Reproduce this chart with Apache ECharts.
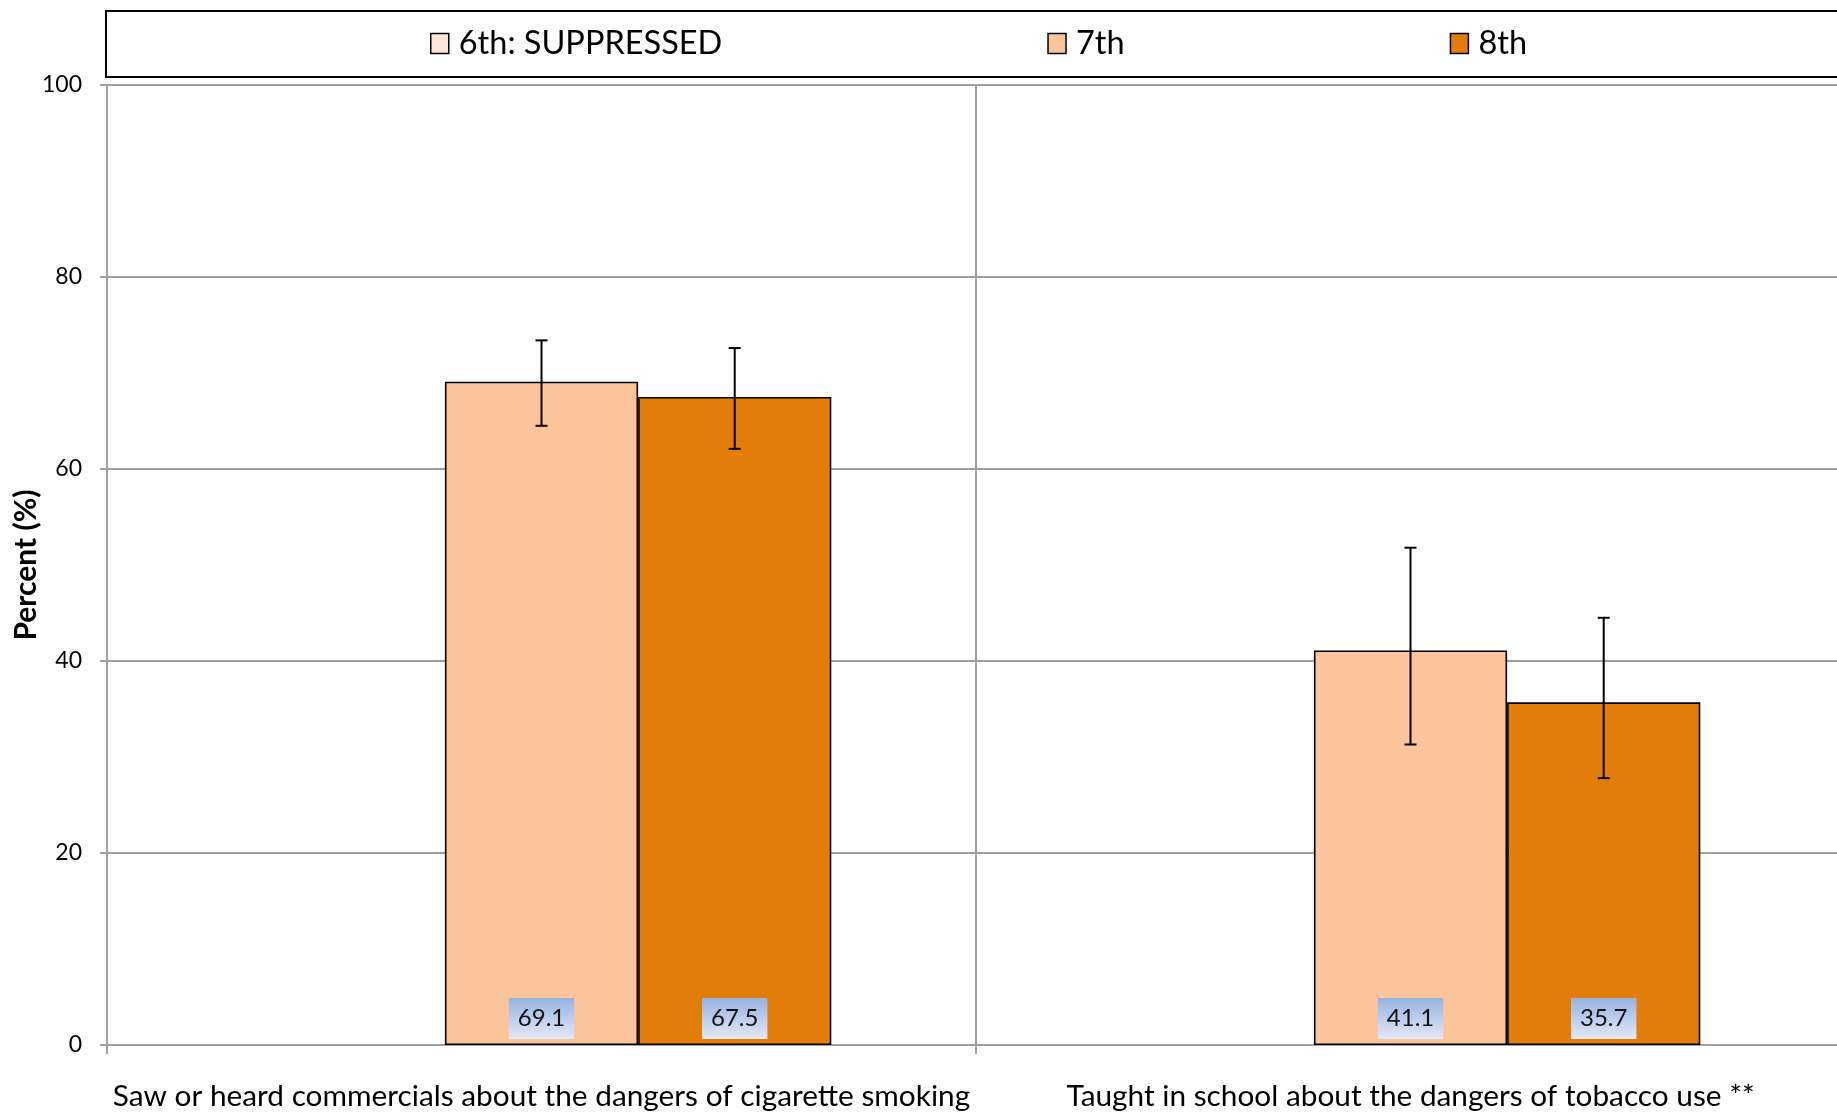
<!DOCTYPE html>
<html>
<head>
<meta charset="utf-8">
<script src="https://cdn.jsdelivr.net/npm/echarts@6/dist/echarts.min.js"></script>
<style>
html,body{margin:0;padding:0;background:#fff;}
#chart{width:1837px;height:1115px;}
</style>
</head>
<body>
<div id="chart"></div>
<script>
// ---- data ----
var categories = [
  'Saw or heard commercials about the dangers of cigarette smoking',
  'Taught in school about the dangers of tobacco use **'
];
var seriesNames = ['6th: SUPPRESSED', '7th', '8th'];
var values6 = [null, null];
var values7 = [69.1, 41.1];
var values8 = [67.5, 35.7];
var ci7Low = [64.5, 31.3];
var ci7High = [73.4, 51.8];
var ci8Low = [62.1, 27.8];
var ci8High = [72.6, 44.5];
var yTicks = [0, 20, 40, 60, 80, 100];

var FONT = 'Lato, "Open Sans", sans-serif';
var colors = ['#FDE5D6', '#FCC49A', '#E27D0A'];
var CAT_GAP = 0.333;

var chart = echarts.init(document.getElementById('chart'));

function labelStyle() {
  return {
    show: true,
    position: 'insideBottom',
    distance: 6,
    formatter: function (p) { return p.value.toFixed(1); },
    fontFamily: FONT,
    fontSize: 24,
    lineHeight: 25,
    color: '#111',
    padding: [8, 9, 8, 9],
    backgroundColor: new echarts.graphic.LinearGradient(0, 0, 0, 1, [
      { offset: 0, color: '#97B2E2' },
      { offset: 1, color: '#E3E9F6' }
    ])
  };
}

function barSeries(name, data, color, withLabel) {
  return {
    name: name,
    type: 'bar',
    data: data,
    barGap: '0%',
    barCategoryGap: (CAT_GAP * 100) + '%',
    itemStyle: { color: color, borderColor: '#000', borderWidth: 1.6 },
    label: withLabel ? labelStyle() : { show: false },
    emphasis: { disabled: true },
    z: 2
  };
}

function errorSeries(low, high, idx) {
  var data = low.map(function (l, i) { return [i, l, high[i]]; });
  return {
    type: 'custom',
    name: 'err' + idx,
    silent: true,
    z: 5,
    data: data,
    renderItem: function (params, api) {
      var xi = api.value(0);
      var pLow = api.coord([xi, api.value(1)]);
      var pHigh = api.coord([xi, api.value(2)]);
      var band = api.size([1, 0])[0];
      var groupW = band * (1 - CAT_GAP);
      var bw = groupW / 3;
      var off = -groupW / 2 + bw * (idx + 0.5);
      var x = pLow[0] + off;
      var cap = 6;
      var st = { stroke: '#000', lineWidth: 2 };
      return {
        type: 'group',
        children: [
          { type: 'line', shape: { x1: x, y1: pLow[1], x2: x, y2: pHigh[1] }, style: st },
          { type: 'line', shape: { x1: x - cap, y1: pLow[1], x2: x + cap, y2: pLow[1] }, style: st },
          { type: 'line', shape: { x1: x - cap, y1: pHigh[1], x2: x + cap, y2: pHigh[1] }, style: st }
        ]
      };
    }
  };
}

var option = {
  animation: false,
  backgroundColor: '#fff',
  textStyle: { fontFamily: FONT },
  graphic: [{
    type: 'rect',
    left: 105, top: 10,
    shape: { width: 1800, height: 66 },
    style: { fill: '#fff', stroke: '#000', lineWidth: 2 },
    z: -1
  }],
  legend: {
    data: seriesNames,
    icon: 'rect',
    left: 430,
    top: 27,
    padding: 0,
    itemGap: 325,
    itemWidth: 18,
    itemHeight: 20,
    itemStyle: { borderColor: '#000', borderWidth: 1.5 },
    textStyle: { fontFamily: FONT, fontSize: 32.5, color: '#000', padding: [0, 0, 0, 5] },
    selectedMode: false
  },
  grid: { left: 107, right: -8, top: 85, bottom: 70, containLabel: false, outerBoundsMode: 'none' },
  xAxis: {
    type: 'category',
    data: categories,
    axisLine: { show: true, lineStyle: { color: '#A0A0A0', width: 2 } },
    axisTick: { show: true, length: 9, lineStyle: { color: '#A0A0A0', width: 2 } },
    splitLine: { show: true, interval: 0, lineStyle: { color: '#A0A0A0', width: 2 } },
    axisLabel: { interval: 0, margin: 36, fontFamily: FONT, fontSize: 29.8, color: '#000' }
  },
  yAxis: {
    type: 'value',
    min: yTicks[0],
    max: yTicks[yTicks.length - 1],
    interval: yTicks[1] - yTicks[0],
    name: 'Percent (%)',
    nameLocation: 'middle',
    nameGap: 66,
    nameMoveOverlap: false,
    nameTextStyle: { fontFamily: FONT, fontSize: 30, fontWeight: 'bold', color: '#000' },
    axisLine: { show: true, lineStyle: { color: '#A0A0A0', width: 2 } },
    axisTick: { show: true, length: 7, lineStyle: { color: '#A0A0A0', width: 2 } },
    splitLine: { show: true, lineStyle: { color: '#A0A0A0', width: 2 } },
    axisLabel: { margin: 25, fontFamily: FONT, fontSize: 23, color: '#000' }
  },
  series: [
    barSeries(seriesNames[0], values6, colors[0], false),
    barSeries(seriesNames[1], values7, colors[1], true),
    barSeries(seriesNames[2], values8, colors[2], true),
    errorSeries(ci7Low, ci7High, 1),
    errorSeries(ci8Low, ci8High, 2)
  ]
};
chart.setOption(option);
</script>
</body>
</html>
